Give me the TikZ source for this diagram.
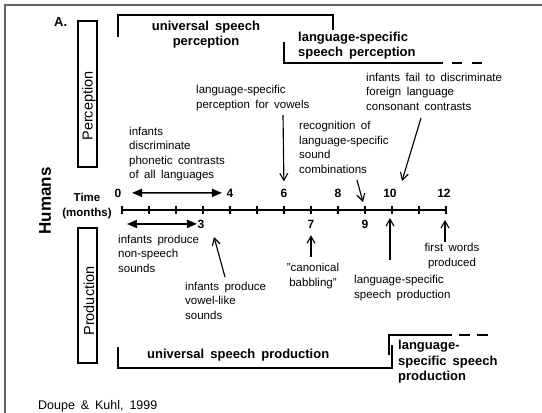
\documentclass[tikz,border=0pt]{standalone}
\usepackage{fontspec}
\setmainfont{Liberation Sans}[WordSpace=1.7]
\usetikzlibrary{arrows.meta}
\tikzset{
  note/.style = {align=left, inner sep=0pt, anchor=base west, font=\fontsize{11.5}{14.5}\selectfont},
  cnote/.style = {note, align=center, anchor=base},
  stage/.style = {align=left, inner sep=0pt, anchor=base west, font=\bfseries\fontsize{13}{15.5}\selectfont},
  month/.style = {inner sep=0pt, anchor=base, font=\bfseries\fontsize{12}{15}\selectfont},
  sidebox/.style = {draw=black, line width=0.6mm},
  sidelabel/.style = {inner sep=0pt, rotate=90, font=\fontsize{14.5}{16}\selectfont},
  bracket/.style = {line width=0.6mm},
  pointer/.style = {-{Straight Barb[length=7pt,width=8pt]}, line width=0.4mm},
  span/.style = {{Triangle[length=10pt,width=8pt]}-{Triangle[length=10pt,width=8pt]}, line width=0.6mm},
}
\begin{document}
\begin{tikzpicture}[x=1pt, y=-1pt]
  \useasboundingbox (0,0) rectangle (542,413);
  % frame of the panel
  \draw[black!60, line width=1.2pt] (5,413) -- (5,5) -- (542,5);
  \node[stage] (panel) at (54,26.5) {A.};
  \node[rotate=90, inner sep=0pt, font=\bfseries\fontsize{17}{20}\selectfont] (humans) at (45,201) {Humans};

  % side boxes
  \draw[sidebox] (78,21) rectangle (97,167);
  \node[sidelabel] (perc) at (89,106) {Perception};
  \draw[sidebox] (78,228) rectangle (97,363);
  \node[sidelabel] (prod) at (89,301) {Production};

  % stages (base = last line)
  \draw[bracket] (118,37) -- (118,15) -- (333,15) -- (333,30);
  \node[stage, align=center, anchor=base] (uniperc) at (206,45.5) {universal speech\\perception};
  \draw[bracket] (284,42) -- (284,63) -- (443,63);
  \draw[bracket, dash pattern=on 10pt off 10pt] (452,63) -- (482,63);
  \node[stage] (lsperc) at (298,56.5) {language-specific\\speech perception};
  \draw[bracket] (118,347) -- (118,368) -- (392,368) -- (392,345);
  \node[stage] (uniprod) at (147,358.5) {universal speech production};
  \draw[bracket] (389,355) -- (389,335) -- (452,335);
  \draw[bracket, dash pattern=on 11pt off 7pt] (459,335) -- (488,335);
  \node[stage] (lsprod) at (398,380.5) {language-\\specific speech\\production};

  % time axis
  \foreach \m in {0,...,12}
    \coordinate (m\m) at (122+27*\m,210);
  \draw[line width=1mm] (m0) -- (m12);
  \foreach \m in {0,...,12}
    \draw[line width=0.4mm] ([yshift=-4pt]m\m) -- ([yshift=4pt]m\m);
  \node[month, align=center, font=\bfseries\fontsize{11.5}{15}\selectfont] (time) at (87,216.5) {Time\\(months)};
  \node[month] (n0) at (118,197) {0};
  \foreach \m/\x in {4/230,6/284,8/338,10/390,12/444}
    \node[month] (n\m) at (\x,197) {\m};
  \foreach \m/\x in {3/201,7/311,9/365}
    \node[month] (n\m) at (\x,228) {\m};

  % perception notes
  \node[note] (discr) at (129,178.5) {infants\\discriminate\\phonetic contrasts\\of all languages};
  \draw[span, shorten <=10.5pt, shorten >=4.5pt] (n0.east) -- (n4.west);
  \node[note] (vowels) at (196,108) {language-specific\\perception for vowels};
  \coordinate (vowtail) at (283,115);
  \draw[pointer, shorten >=7pt] (vowtail) -- (n6.north);
  \node[note] (recog) at (299,173) {recognition of\\language-specific\\sound\\combinations};
  \coordinate (recogtail) at (357,180);
  \coordinate (recogtip) at (363,202);
  \draw[pointer] (recogtail) -- (recogtip);
  \node[note] (fail) at (366,110) {infants fail to discriminate\\foreign language\\consonant contrasts};
  \coordinate (failtail) at (421,118);
  \coordinate (failtip) at (402,181);
  \draw[pointer] (failtail) -- (failtip);

  % production notes
  \coordinate (nstail) at (127,224);
  \draw[span, shorten >=0.5pt] (nstail) -- (n3.west);
  \node[note] (nonsp) at (118,272) {infants produce\\non-speech\\sounds};
  \node[note] (vowlike) at (185,319) {infants produce\\vowel-like\\sounds};
  \coordinate (vowltail) at (225,277);
  \coordinate (vowltip) at (214,237);
  \draw[pointer] (vowltail) -- (vowltip);
  \node[cnote] (babbl) at (313,286) {"canonical\\babbling"};
  \coordinate (babtail) at (311,257);
  \draw[pointer, shorten >=7pt] (babtail) -- (n7.south);
  \node[note] (lsspeech) at (354,298) {language-specific\\speech production};
  \coordinate (lstail) at (390,260);
  \coordinate (lstip) at (390,218);
  \draw[pointer] (lstail) -- (lstip);
  \node[cnote] (firstw) at (452,266) {first words\\produced};
  \coordinate (fwtail) at (445,242);
  \coordinate (fwtip) at (445,220);
  \draw[pointer] (fwtail) -- (fwtip);

  \node[note, font=\fontsize{12.5}{15}\selectfont] (cite) at (38,409) {Doupe \& Kuhl, 1999};
\end{tikzpicture}
\end{document}
